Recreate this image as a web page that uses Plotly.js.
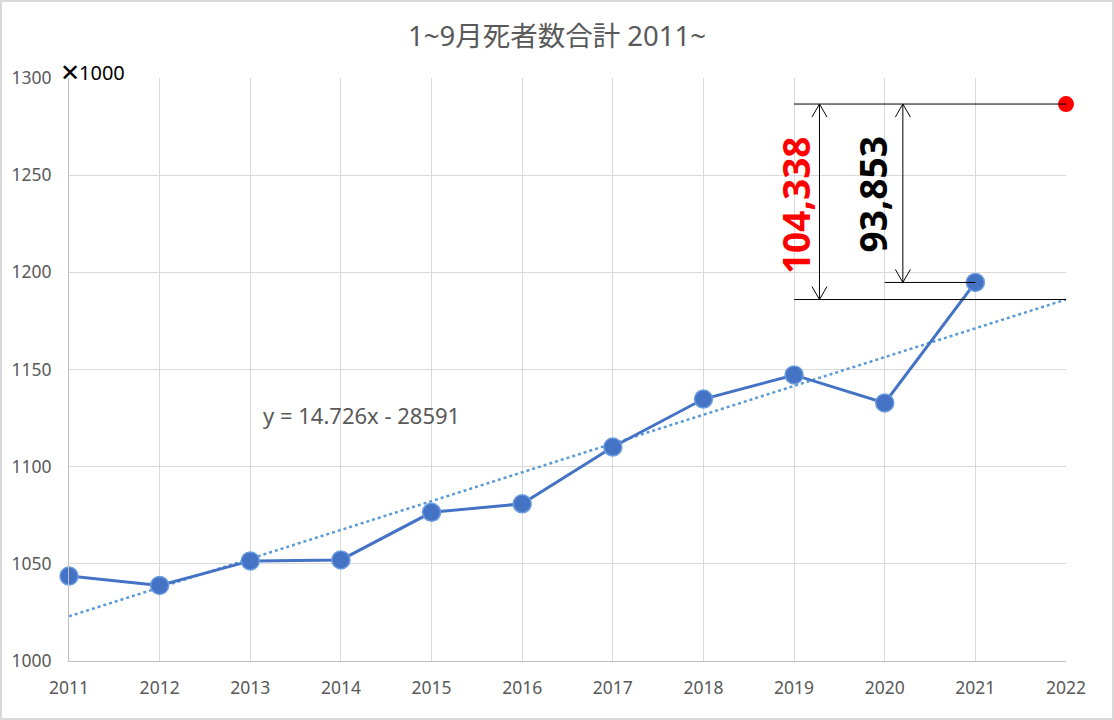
<!DOCTYPE html>
<html>
<head>
<meta charset="utf-8">
<script src="https://cdn.plot.ly/plotly-3.0.1.min.js"></script>
<style>
html,body{margin:0;padding:0;background:#fff;}
#wrap{position:relative;width:1114px;height:720px;}
#chart{width:1114px;height:720px;}
#frame{position:absolute;left:0;top:0;width:1114px;height:720px;box-sizing:border-box;border:2px solid #d9d9d9;pointer-events:none;}
</style>
</head>
<body>
<div id="wrap"><div id="chart"></div><div id="frame"></div></div>
<script>
// Data (×1000 persons)
const years = [2011, 2012, 2013, 2014, 2015, 2016, 2017, 2018, 2019, 2020, 2021];
const deaths = [1043.7, 1038.9, 1051.5, 1052.0, 1076.5, 1080.9, 1110.1, 1134.8, 1147.2, 1132.8, 1194.8];
const forecastYear = [2022];
const forecastValue = [1286.6];
const trendYears = [2011, 2022];
const trendValues = [1023.0, 1186.0];
const xTicks = [2011, 2012, 2013, 2014, 2015, 2016, 2017, 2018, 2019, 2020, 2021, 2022];
const yTicks = [1000, 1050, 1100, 1150, 1200, 1250, 1300];
const titleText = '1~9月死者数合計 2011~';
const equationText = 'y = 14.726x - 28591';
const unitSign = '✕';
const unitText = '1000';
const diffTrend = '104,338';
const diffLast = '93,853';

const FONT = '"Noto Sans", "Noto Sans CJK JP", sans-serif';

const traces = [
  {
    x: trendYears, y: trendValues, type: 'scatter', mode: 'lines',
    line: {color: '#5B9BD5', width: 2.5, dash: 'dot'}, hoverinfo: 'skip', showlegend: false, cliponaxis: false
  },
  {
    x: years, y: deaths, type: 'scatter', mode: 'lines+markers',
    line: {color: '#4472C4', width: 3},
    marker: {size: 18, color: '#4472C4', line: {color: '#6A9BDE', width: 1.5}},
    showlegend: false, cliponaxis: false
  },
  {
    x: forecastYear, y: forecastValue, type: 'scatter', mode: 'markers',
    marker: {size: 16, color: '#FF0000'}, showlegend: false, cliponaxis: false
  }
];

const yTop = forecastValue[0];
const yTrend = trendValues[1];
const yLast = deaths[deaths.length - 1];
const xL = 2019, xM = 2020, xR = 2022, xLast = 2021;
const xA1 = 2019.28, xA2 = 2020.2;

function vHead(x, y, up) {
  const s = up ? -1 : 1;
  return {
    type: 'path', xref: 'x', yref: 'y', xsizemode: 'pixel', ysizemode: 'pixel',
    xanchor: x, yanchor: y,
    path: `M -7.5 ${s*13} L 0 0 L 7.5 ${s*13}`,
    line: {color: '#000', width: 1}
  };
}

const shapes = [
  {type: 'line', xref: 'x', yref: 'y', x0: xL, x1: xR, y0: yTop, y1: yTop, line: {color: '#000', width: 1}},
  {type: 'line', xref: 'x', yref: 'y', x0: xL, x1: xR, y0: yTrend, y1: yTrend, line: {color: '#000', width: 1}},
  {type: 'line', xref: 'x', yref: 'y', x0: xM, x1: xLast, y0: yLast, y1: yLast, line: {color: '#000', width: 1}},
  {type: 'line', xref: 'x', yref: 'y', x0: xA1, x1: xA1, y0: yTrend, y1: yTop, line: {color: '#000', width: 1}},
  {type: 'line', xref: 'x', yref: 'y', x0: xA2, x1: xA2, y0: yLast, y1: yTop, line: {color: '#000', width: 1}},
  vHead(xA1, yTop, true), vHead(xA1, yTrend, false),
  vHead(xA2, yTop, true), vHead(xA2, yLast, false)
];

const tickFont = {family: FONT, size: 17.5, color: '#595959'};

const layout = {
  width: 1114, height: 720,
  margin: {l: 68.5, r: 48.4, t: 78.3, b: 58.7},
  paper_bgcolor: '#fff', plot_bgcolor: '#fff',
  font: {family: FONT, color: '#595959', size: 16},
  title: {text: titleText, x: 0.5, xanchor: 'center', y: 0.95, yanchor: 'middle', font: {family: FONT, size: 27.5, color: '#595959'}},
  xaxis: {
    range: [2011, 2022], tickvals: xTicks, ticktext: xTicks.map(String),
    showgrid: true, gridcolor: '#d9d9d9', gridwidth: 1,
    showline: true, linecolor: '#bfbfbf', linewidth: 1, zeroline: false,
    ticks: 'outside', ticklen: 11, tickcolor: 'rgba(0,0,0,0)', tickfont: tickFont, fixedrange: true
  },
  yaxis: {
    range: [1000, 1300], tickvals: yTicks, ticktext: yTicks.map(String),
    showgrid: true, gridcolor: '#d9d9d9', gridwidth: 1,
    showline: true, linecolor: '#bfbfbf', linewidth: 1, zeroline: false,
    ticks: 'outside', ticklen: 13, tickcolor: 'rgba(0,0,0,0)', tickfont: tickFont, fixedrange: true
  },
  shapes: shapes,
  annotations: [
    {xref: 'paper', yref: 'paper', x: -0.0115, y: 1.009, xanchor: 'left', yanchor: 'middle', showarrow: false,
     text: unitSign, font: {family: '"DejaVu Sans"', size: 24, color: '#000'}},
    {xref: 'paper', yref: 'paper', x: 0.0085, y: 1.009, xanchor: 'left', yanchor: 'middle', showarrow: false,
     text: unitText, font: {family: FONT, size: 20, color: '#000'}},
    {xref: 'x', yref: 'y', x: 2013.12, y: 1126.4, xanchor: 'left', yanchor: 'middle', showarrow: false,
     text: equationText, font: {family: FONT, size: 22, color: '#595959'}},
    {xref: 'x', yref: 'y', x: 2019.014, y: 1234.8, xanchor: 'center', yanchor: 'middle', showarrow: false, textangle: -90,
     text: '<b>' + diffTrend + '</b>', font: {family: FONT, size: 37, color: '#FF0000'}},
    {xref: 'x', yref: 'y', x: 2019.863, y: 1240.2, xanchor: 'center', yanchor: 'middle', showarrow: false, textangle: -90,
     text: '<b>' + diffLast + '</b>', font: {family: FONT, size: 37, color: '#000'}}
  ]
};

Plotly.newPlot('chart', traces, layout, {displayModeBar: false, staticPlot: true});
</script>
</body>
</html>
